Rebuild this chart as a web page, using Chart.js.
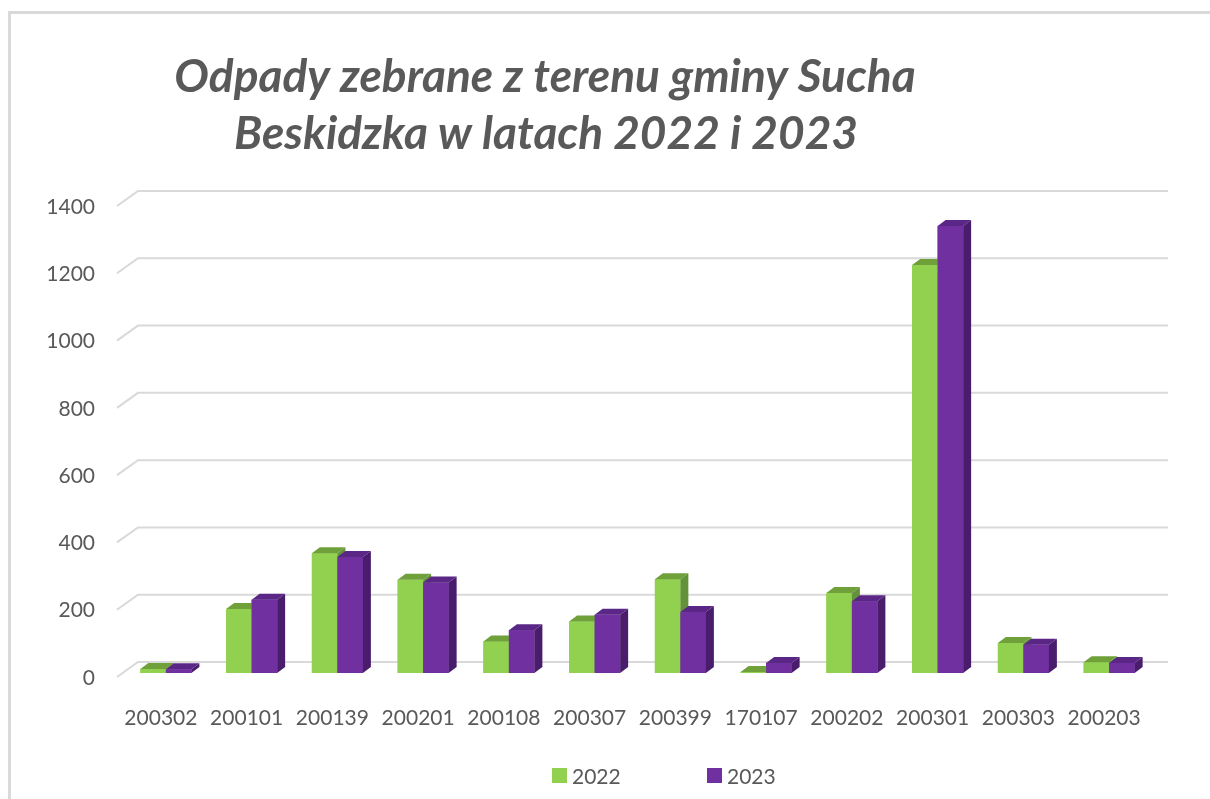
<!DOCTYPE html>
<html>
<head>
<meta charset="utf-8">
<script src="https://cdn.jsdelivr.net/npm/chart.js@4/dist/chart.umd.min.js"></script>
<style>
html,body{margin:0;padding:0;background:#fff;}
canvas{display:block;}
</style>
</head>
<body>
<canvas id="c" width="1210" height="799"></canvas>
<script>
const titleLines = ['Odpady zebrane z terenu gminy Sucha', 'Beskidzka w latach 2022 i 2023'];
const categories = ['200302','200101','200139','200201','200108','200307','200399','170107','200202','200301','200303','200203'];
const seriesNames = ['2022', '2023'];
const values2022 = [12, 190, 356, 277, 94, 153, 279, 3, 238, 1213, 89, 32];
const values2023 = [11, 218, 345, 269, 127, 173, 181, 30, 213, 1329, 84, 30];
const yMin = 0, yMax = 1400, yStep = 200;

const FONT = 'Lato, "Open Sans", sans-serif';
const TEXT = '#595959';
const faces = [
  {front: '#92D050', top: '#6FA03A', side: '#64923A'},
  {front: '#7030A0', top: '#5A2787', side: '#4A1D6C'}
];
const DX = 8, DY = -6;

const framePlugin = {
  id: 'frame',
  beforeDraw(chart) {
    const ctx = chart.ctx;
    ctx.save();
    ctx.fillStyle = '#fff';
    ctx.fillRect(0, 0, chart.width, chart.height);
    ctx.strokeStyle = '#d9d9d9';
    ctx.lineWidth = 3;
    ctx.beginPath();
    ctx.moveTo(9.5, chart.height);
    ctx.lineTo(9.5, 12.5);
    ctx.lineTo(chart.width, 12.5);
    ctx.stroke();
    // title
    ctx.fillStyle = TEXT;
    ctx.font = 'italic bold 46px ' + FONT;
    ctx.textAlign = 'center';
    ctx.textBaseline = 'alphabetic';
    ctx.fillText(titleLines[0], 545, 92);
    ctx.fillText(titleLines[1], 546, 149);
    ctx.restore();
  }
};

const wallPlugin = {
  id: 'wall',
  beforeDatasetsDraw(chart) {
    const ctx = chart.ctx, ys = chart.scales.y, area = chart.chartArea;
    ctx.save();
    ctx.strokeStyle = '#d9d9d9';
    ctx.lineWidth = 2;
    ys.ticks.forEach(t => {
      const p = ys.getPixelForValue(t.value);
      ctx.beginPath();
      ctx.moveTo(area.left - 6, p + 4);
      ctx.lineTo(area.left + 15, p - 11);
      ctx.lineTo(area.right + 16, p - 11);
      ctx.stroke();
    });
    ctx.restore();
  }
};

const bars3dPlugin = {
  id: 'bars3d',
  afterDatasetsDraw(chart) {
    const ctx = chart.ctx;
    const metas = chart.data.datasets.map((d, i) => chart.getDatasetMeta(i));
    ctx.save();
    for (let i = 0; i < categories.length; i++) {
      metas.forEach((meta, di) => {
        const el = meta.data[i];
        if (!el) return;
        const {x, y, base, width} = el.getProps(['x', 'y', 'base', 'width'], true);
        const l = x - width / 2, r = x + width / 2;
        const f = faces[di];
        ctx.fillStyle = f.front;
        ctx.fillRect(l, y, width, base - y);
        ctx.fillStyle = f.top;
        ctx.beginPath();
        ctx.moveTo(l, y); ctx.lineTo(l + DX, y + DY); ctx.lineTo(r + DX, y + DY); ctx.lineTo(r, y);
        ctx.closePath(); ctx.fill();
        ctx.fillStyle = f.side;
        ctx.beginPath();
        ctx.moveTo(r, y); ctx.lineTo(r + DX, y + DY); ctx.lineTo(r + DX, base + DY); ctx.lineTo(r, base);
        ctx.closePath(); ctx.fill();
      });
    }
    ctx.restore();
  }
};

const legendPlugin = {
  id: 'customLegend',
  afterDraw(chart) {
    const ctx = chart.ctx;
    const xs = [552, 707];
    ctx.save();
    ctx.font = '21px ' + FONT;
    ctx.textBaseline = 'alphabetic';
    ctx.textAlign = 'left';
    chart.data.datasets.forEach((ds, i) => {
      ctx.fillStyle = ds.backgroundColor;
      ctx.fillRect(xs[i], 768, 15, 15);
      ctx.fillStyle = TEXT;
      ctx.fillText(ds.label, xs[i] + 20, 784);
    });
    ctx.restore();
  }
};

new Chart(document.getElementById('c'), {
  type: 'bar',
  data: {
    labels: categories,
    datasets: [
      {label: seriesNames[0], data: values2022, backgroundColor: faces[0].front},
      {label: seriesNames[1], data: values2023, backgroundColor: faces[1].front}
    ]
  },
  options: {
    responsive: false,
    animation: false,
    devicePixelRatio: 1,
    categoryPercentage: 0.595,
    barPercentage: 1.0,
    layout: {padding: {top: 202, right: 58, bottom: 66, left: 0}},
    plugins: {
      legend: {display: false},
      title: {display: false},
      tooltip: {enabled: false}
    },
    scales: {
      x: {
        grid: {display: false},
        border: {display: false},
        ticks: {color: TEXT, font: {family: FONT, size: 21}, padding: 25, labelOffset: -5, maxRotation: 0, autoSkip: false},
        afterFit(s) { s.height = 60; }
      },
      y: {
        min: yMin, max: yMax,
        grid: {display: false, drawTicks: false},
        border: {display: false},
        ticks: {stepSize: yStep, color: TEXT, font: {family: FONT, size: 21}, padding: 28, labelOffset: 5,
                callback: v => String(v)},
        afterFit(s) { s.width = 123; }
      }
    }
  },
  plugins: [framePlugin, wallPlugin, bars3dPlugin, legendPlugin]
});
</script>
</body>
</html>
